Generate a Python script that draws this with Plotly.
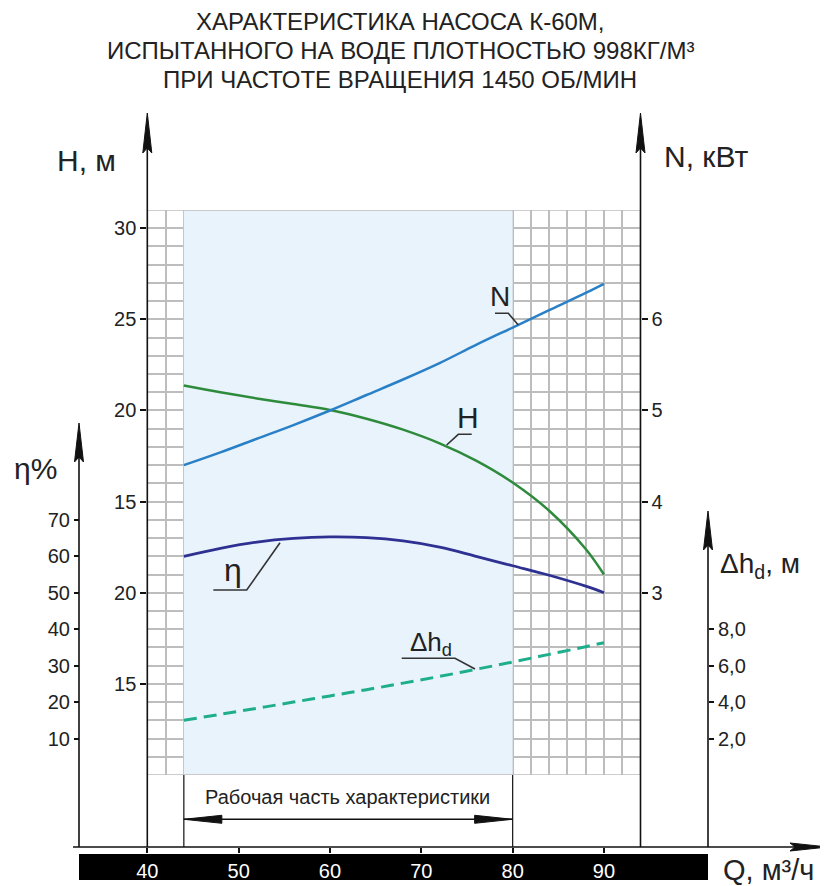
import plotly.graph_objects as go

# ---------------- data ----------------
Q = [44, 48, 52, 56, 60, 64, 68, 72, 76, 80, 84, 88, 90]
H_m = [21.37, 21.0, 20.66, 20.35, 20.03, 19.55, 18.95, 18.2, 17.25, 16.05, 14.5, 12.4, 11.0]
N_kW = [4.40, 4.54, 4.69, 4.84, 5.0, 5.17, 5.34, 5.52, 5.72, 5.91, 6.10, 6.29, 6.39]
eta_pct = [60.0, 62.2, 63.9, 64.9, 65.3, 65.1, 64.2, 62.5, 60.0, 57.4, 54.8, 51.8, 50.0]
dh_m = [3.0, 3.33, 3.66, 4.0, 4.34, 4.68, 5.04, 5.41, 5.8, 6.2, 6.62, 7.04, 7.26]

q_ticks = [40, 50, 60, 70, 80, 90]
h_tickvals = [5, 10, 15, 20, 25, 30]
h_ticktext = ["15", "20", "15", "20", "25", "30"]
n_ticks = [3, 4, 5, 6]
eta_ticks = [10, 20, 30, 40, 50, 60, 70]
dh_tickvals = [2, 4, 6, 8]
dh_ticktext = ["2,0", "4,0", "6,0", "8,0"]
work_range = [44, 80]

title_lines = ["ХАРАКТЕРИСТИКА НАСОСА К-60М,",
               "ИСПЫТАННОГО НА ВОДЕ ПЛОТНОСТЬЮ 998КГ/М³",
               "ПРИ ЧАСТОТЕ ВРАЩЕНИЯ 1450 ОБ/МИН"]

# ---------------- geometry helpers (screen pixels -> paper) ----------------
OFF = 8                 # page body margin
W, HT = 828 - OFF, 886 - OFF
AXIS_Y = 847            # screen y of the Q axis line
PH = AXIS_Y - OFF       # plot-area height in figure px
MB = HT - PH
X_LEFT_PX, X_RIGHT_PX = 147.3, 640.5   # Q = 40 .. 94 (screen px)
GRID_TOP_PX, GRID_BOT_PX = 210, 775     # H = 31 .. 0 (screen px)
Q_MIN, Q_MAX = 40, 94
H_MIN, H_MAX = 0, 31


def px(x):
    return (x - OFF) / W


def py(y):
    return (AXIS_Y - y) / PH


def qpx(q):
    return X_LEFT_PX + (q - Q_MIN) * (X_RIGHT_PX - X_LEFT_PX) / (Q_MAX - Q_MIN)


FONT = "Liberation Sans, Arial, sans-serif"
TXT = "#222222"
GRID = "#BDBDBD"

fig = go.Figure()

fig.add_trace(go.Scatter(x=Q, y=H_m, mode="lines", yaxis="y",
                         line=dict(color="#2E8B3C", width=2.5, shape="spline")))
fig.add_trace(go.Scatter(x=Q, y=N_kW, mode="lines", yaxis="y2",
                         line=dict(color="#2A80C6", width=2.5, shape="spline")))
fig.add_trace(go.Scatter(x=Q, y=eta_pct, mode="lines", yaxis="y3",
                         line=dict(color="#2E3192", width=2.8, shape="spline")))
fig.add_trace(go.Scatter(x=Q, y=dh_m, mode="lines", yaxis="y4",
                         line=dict(color="#1FAE8C", width=3, dash="13px,7px", shape="spline")))

shapes = []

# shaded working region (above the grid, below the traces)
shapes.append(dict(type="rect", xref="x", yref="y", x0=work_range[0], x1=work_range[1],
                   y0=H_MIN, y1=H_MAX, fillcolor="rgb(233,243,252)",
                   line=dict(width=0), layer="between"))
# grid border
shapes.append(dict(type="rect", xref="x", yref="y", x0=Q_MIN, x1=Q_MAX, y0=H_MIN, y1=H_MAX,
                   fillcolor="rgba(0,0,0,0)", line=dict(color=GRID, width=1.5), layer="between"))


def line(x0, y0, x1, y1, color="#111111", width=1.6):
    shapes.append(dict(type="line", xref="paper", yref="paper",
                       x0=px(x0), y0=py(y0), x1=px(x1), y1=py(y1),
                       line=dict(color=color, width=width), layer="above"))


def poly(points, color="#111111", fill="#111111", width=1):
    d = "M " + " L ".join(f"{px(a):.5f},{py(b):.5f}" for a, b in points) + " Z"
    shapes.append(dict(type="path", xref="paper", yref="paper", path=d,
                       fillcolor=fill, line=dict(color=color, width=width), layer="above"))


def polyline(points, color="#333333", width=1.6):
    d = "M " + " L ".join(f"{px(a):.5f},{py(b):.5f}" for a, b in points)
    shapes.append(dict(type="path", xref="paper", yref="paper", path=d,
                       line=dict(color=color, width=width), layer="above"))


def up_arrow(x, tip, base, half=4.5):
    poly([(x, tip), (x + half, base), (x, base - 5), (x - half, base)])


# vertical axes with arrows
line(X_LEFT_PX, 140, X_LEFT_PX, AXIS_Y)
up_arrow(X_LEFT_PX, 113, 153)
line(X_RIGHT_PX, 140, X_RIGHT_PX, AXIS_Y)
up_arrow(X_RIGHT_PX, 113, 153)
line(79, 450, 79, AXIS_Y)
up_arrow(79, 423, 462)
line(708, 538, 708, AXIS_Y)
up_arrow(708, 511, 550)

# working region boundaries below the grid
line(qpx(work_range[0]), GRID_BOT_PX, qpx(work_range[0]), AXIS_Y, color="#222222", width=1.3)
line(qpx(work_range[1]), GRID_BOT_PX, qpx(work_range[1]), AXIS_Y, color="#222222", width=1.3)

# horizontal Q axis with arrow
line(73, AXIS_Y, 800, AXIS_Y)
poly([(828, AXIS_Y), (790, AXIS_Y - 4), (795, AXIS_Y), (790, AXIS_Y + 4)])

# black band below the Q axis
shapes.append(dict(type="rect", xref="paper", yref="paper",
                   x0=px(79), x1=px(708), y0=py(880), y1=py(854),
                   fillcolor="#000000", line=dict(width=0), layer="below"))

# working range double arrow
ya = 819.3
x0w, x1w = qpx(work_range[0]), qpx(work_range[1])
line(x0w, ya, x1w, ya, width=1.4)
poly([(x0w, ya), (x0w + 38, ya - 4), (x0w + 38, ya + 4)])
poly([(x1w, ya), (x1w - 38, ya - 4), (x1w - 38, ya + 4)])

# leader lines for curve labels
polyline([(495, 313.3), (508.3, 313.3), (518.3, 325)])
polyline([(471.7, 434.3), (458.3, 434.3), (446.7, 445)])
polyline([(213.3, 590), (246.7, 590), (280, 542.7)])
polyline([(401.7, 658.3), (455, 658.3), (475, 669)])

annotations = []


def text(s, x, y, size, xanchor="center", family=FONT, color=TXT):
    annotations.append(dict(text=s, x=px(x), y=py(y), xref="paper", yref="paper",
                            xanchor=xanchor, yanchor="middle", showarrow=False,
                            font=dict(family=family, size=size, color=color)))


for i, s in enumerate(title_lines):
    text(s, 400, 22 + 28.5 * i, 24)

text("H, м", 86, 161, 30)
text("N, кВт", 662, 157, 30, xanchor="left")
text("η%", 12, 468, 30, xanchor="left")
text("Δh<sub>d</sub>, м", 718, 566, 28, xanchor="left")
text("Q, м³/ч", 721, 870, 29, xanchor="left")
text("Рабочая часть характеристики", 347, 797, 20)

text("N", 500, 297, 28)
text("H", 467.5, 417.5, 30)
text("η", 232.5, 570, 32)
text("Δh<sub>d</sub>", 431, 643, 26)

axis_common = dict(showgrid=False, zeroline=False, showline=False, automargin=False,
                   tickfont=dict(family=FONT, size=20, color=TXT), tickcolor="#111111",
                   tickwidth=1.5, fixedrange=True)

fig.update_layout(
    width=W, height=HT, template="none",
    margin=dict(l=0, r=0, t=0, b=MB),
    paper_bgcolor="white", plot_bgcolor="white",
    showlegend=False, hovermode=False,
    shapes=shapes, annotations=annotations,
    xaxis=dict(domain=[px(X_LEFT_PX), px(X_RIGHT_PX)], range=[Q_MIN, Q_MAX],
               anchor="free", position=0,
               tickmode="array", tickvals=q_ticks, ticks="outside", ticklen=5,
               tickwidth=1.5, tickcolor="#111111",
               ticklabelstandoff=1,
               tickfont=dict(family=FONT, size=20, color="white"),
               showgrid=True, gridcolor=GRID, gridwidth=1.5,
               minor=dict(tickmode="linear", tick0=40, dtick=2, showgrid=True,
                          gridcolor=GRID, gridwidth=1.5, ticks=""),
               zeroline=False, showline=False, automargin=False, fixedrange=True),
    yaxis=dict(domain=[py(GRID_BOT_PX), py(GRID_TOP_PX)], range=[H_MIN, H_MAX],
               anchor="x", side="left",
               tickmode="array", tickvals=h_tickvals, ticktext=h_ticktext,
               ticks="outside", ticklen=6, tickwidth=1.5, tickcolor="#111111",
               tickfont=dict(family=FONT, size=20, color=TXT),
               showgrid=True, gridcolor=GRID, gridwidth=1.5,
               minor=dict(tickmode="linear", tick0=0, dtick=1, showgrid=True,
                          gridcolor=GRID, gridwidth=1.5, ticks=""),
               zeroline=False, showline=False, automargin=False, fixedrange=True),
    yaxis2=dict(axis_common, overlaying="y", anchor="x", side="right",
                range=[(H_MIN + 5) / 5, (H_MAX + 5) / 5],
                tickmode="array", tickvals=n_ticks, ticks="outside", ticklen=6),
    yaxis3=dict(axis_common, overlaying="y", anchor="free", position=px(79), side="left",
                range=[H_MIN * 5, H_MAX * 5],
                tickmode="array", tickvals=eta_ticks, ticks="outside", ticklen=5),
    yaxis4=dict(axis_common, overlaying="y", anchor="free", position=px(708), side="right",
                range=[H_MIN, H_MAX],
                tickmode="array", tickvals=dh_tickvals, ticktext=dh_ticktext,
                ticks="outside", ticklen=5),
    yaxis5=dict(axis_common, overlaying="y", anchor="free", position=px(79), side="left",
                range=[H_MIN * 5, H_MAX * 5], showticklabels=False,
                tickmode="array", tickvals=eta_ticks, ticks="inside", ticklen=5),
    yaxis6=dict(axis_common, overlaying="y", anchor="free", position=px(708), side="right",
                range=[H_MIN, H_MAX], showticklabels=False,
                tickmode="array", tickvals=dh_tickvals, ticks="inside", ticklen=5),
)

fig.write_html("out.html")
